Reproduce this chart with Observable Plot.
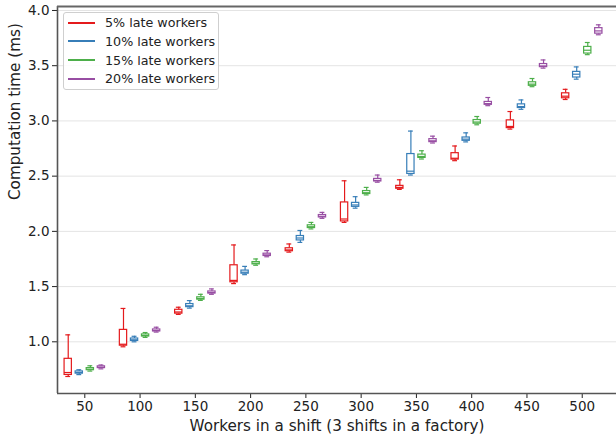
<!DOCTYPE html>
<html><head><meta charset="utf-8">
<script src="https://cdn.jsdelivr.net/npm/d3@7"></script>
<script src="https://cdn.jsdelivr.net/npm/@observablehq/plot@0.6"></script>
<style>
body{margin:0;background:#fff;}
#wrap{position:relative;width:616px;height:437px;font-family:"DejaVu Sans",sans-serif;}
#legend{position:absolute;left:63px;top:12px;width:156px;height:78px;border:1px solid #cfcfcf;border-radius:3px;background:rgba(255,255,255,0.85);box-sizing:border-box;}
.row{position:absolute;left:4px;height:18px;display:flex;align-items:center;font-size:12.7px;color:#222;white-space:nowrap;}
.sw{width:27px;height:0;border-top:2px solid;margin-right:10px;}
</style></head>
<body><div id="wrap"><div id="legend"></div></div>
<script>
const groups = [50, 100, 150, 200, 250, 300, 350, 400, 450, 500];
const seriesNames = ["5% late workers", "10% late workers", "15% late workers", "20% late workers"];
const seriesColors = ["#e41a1c", "#377eb8", "#4daf4a", "#984ea3"];
const seriesOffsets = [-15, -5, 5, 15];
const yTicks = [1.0, 1.5, 2.0, 2.5, 3.0, 3.5, 4.0];
// [low whisker, q1, median, q3, high whisker]
const late5 = [
  [0.686, 0.700, 0.722, 0.846, 1.063],
  [0.955, 0.965, 0.978, 1.108, 1.302],
  [1.248, 1.255, 1.270, 1.290, 1.313],
  [1.527, 1.539, 1.556, 1.693, 1.877],
  [1.812, 1.820, 1.832, 1.847, 1.886],
  [2.081, 2.090, 2.112, 2.262, 2.458],
  [2.380, 2.386, 2.398, 2.412, 2.467],
  [2.640, 2.650, 2.662, 2.708, 2.773],
  [2.926, 2.935, 2.950, 3.005, 3.085],
  [3.194, 3.205, 3.224, 3.250, 3.286]
];
const late10 = [
  [0.703, 0.712, 0.722, 0.732, 0.747],
  [1.000, 1.008, 1.018, 1.030, 1.050],
  [1.305, 1.314, 1.326, 1.342, 1.373],
  [1.608, 1.617, 1.630, 1.645, 1.683],
  [1.900, 1.918, 1.940, 1.958, 2.008],
  [2.210, 2.222, 2.239, 2.258, 2.314],
  [2.510, 2.520, 2.545, 2.700, 2.908],
  [2.810, 2.820, 2.835, 2.850, 2.892],
  [3.105, 3.117, 3.130, 3.150, 3.190],
  [3.378, 3.393, 3.423, 3.444, 3.489]
];
const late15 = [
  [0.735, 0.743, 0.752, 0.762, 0.783],
  [1.040, 1.048, 1.057, 1.067, 1.084],
  [1.375, 1.382, 1.392, 1.403, 1.430],
  [1.693, 1.701, 1.711, 1.722, 1.750],
  [2.022, 2.030, 2.042, 2.055, 2.081],
  [2.330, 2.338, 2.350, 2.365, 2.398],
  [2.655, 2.665, 2.678, 2.695, 2.730],
  [2.965, 2.975, 2.990, 3.008, 3.040],
  [3.310, 3.318, 3.333, 3.350, 3.384],
  [3.600, 3.610, 3.640, 3.670, 3.710]
];
const late20 = [
  [0.755, 0.762, 0.770, 0.778, 0.790],
  [1.088, 1.094, 1.102, 1.112, 1.132],
  [1.430, 1.437, 1.446, 1.456, 1.479],
  [1.770, 1.777, 1.787, 1.798, 1.826],
  [2.118, 2.126, 2.136, 2.148, 2.172],
  [2.445, 2.452, 2.461, 2.475, 2.510],
  [2.800, 2.808, 2.820, 2.835, 2.862],
  [3.138, 3.146, 3.157, 3.172, 3.212],
  [3.478, 3.487, 3.498, 3.515, 3.552],
  [3.780, 3.790, 3.815, 3.840, 3.870]
];
const allSeries = [late5, late10, late15, late20];

const xDomain = [25.3, 531];
const yDomain = [0.532, 4.036];
const boxHalf = 3.3, capHalf = 2.2;

const marks = [
  Plot.ruleY(yTicks, {stroke: "#e4e4e4", strokeWidth: 1})
];
allSeries.forEach((vals, si) => {
  const rows = vals.map((v, gi) => ({x: groups[gi] + seriesOffsets[si], lo: v[0], q1: v[1], med: v[2], q3: v[3], hi: v[4]}));
  const c = seriesColors[si];
  marks.push(
    Plot.ruleX(rows, {x: "x", y1: "lo", y2: "q1", stroke: c, strokeWidth: 1.2}),
    Plot.ruleX(rows, {x: "x", y1: "q3", y2: "hi", stroke: c, strokeWidth: 1.2}),
    Plot.ruleY(rows, {y: "hi", x1: d => d.x - capHalf, x2: d => d.x + capHalf, stroke: c, strokeWidth: 1.2}),
    Plot.ruleY(rows, {y: "lo", x1: d => d.x - capHalf, x2: d => d.x + capHalf, stroke: c, strokeWidth: 1.2}),
    Plot.rect(rows, {x1: d => d.x - boxHalf, x2: d => d.x + boxHalf, y1: "q1", y2: "q3", fill: "white", stroke: c, strokeWidth: 1.2}),
    Plot.ruleY(rows, {y: "med", x1: d => d.x - boxHalf, x2: d => d.x + boxHalf, stroke: c, strokeWidth: 1.2})
  );
});
marks.push(
  Plot.ruleX([xDomain[0]], {stroke: "#555", strokeWidth: 1.6}),
  Plot.ruleY([yDomain[0]], {stroke: "#555", strokeWidth: 1.6}),
  Plot.ruleY([yDomain[1]], {stroke: "#666", strokeWidth: 1.8}),
  Plot.text(["Workers in a shift (3 shifts in a factory)"], {frameAnchor: "bottom", dy: 37, fontSize: 15.2, fill: "#222"}),
  Plot.text(["Computation time (ms)"], {frameAnchor: "left", dx: -42, rotate: -90, fontSize: 15.2, fill: "#222"})
);

const chart = Plot.plot({
  width: 616, height: 437,
  marginLeft: 57, marginRight: 0, marginTop: 6, marginBottom: 44,
  style: {fontFamily: "DejaVu Sans, sans-serif", fontSize: "13.5px", color: "#222", background: "white", overflow: "visible"},
  x: {domain: xDomain, ticks: groups, tickFormat: d => String(d), label: null, tickSize: 5, tickPadding: 3},
  y: {domain: yDomain, ticks: yTicks, tickFormat: d3.format(".1f"), label: null, tickSize: 5, tickPadding: 3},
  marks
});
const wrap = document.getElementById("wrap");
wrap.insertBefore(chart, wrap.firstChild);

const legend = document.getElementById("legend");
seriesNames.forEach((name, i) => {
  const row = document.createElement("div");
  row.className = "row";
  row.style.top = (0.7 + 18.67 * i) + "px";
  const sw = document.createElement("span");
  sw.className = "sw";
  sw.style.borderColor = seriesColors[i];
  const t = document.createElement("span");
  t.textContent = name;
  row.appendChild(sw); row.appendChild(t);
  legend.appendChild(row);
});
</script>
</body></html>
